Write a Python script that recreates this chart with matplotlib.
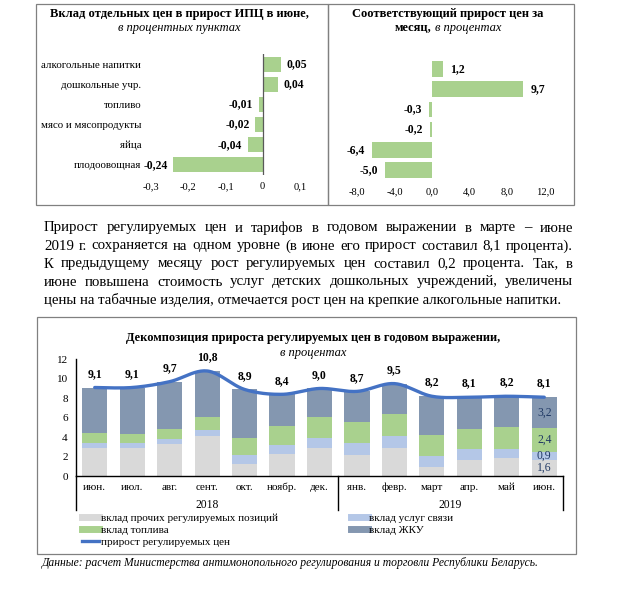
import numpy as np
import matplotlib
matplotlib.use("Agg")
import matplotlib.pyplot as plt
from matplotlib.lines import Line2D
from matplotlib.patches import Rectangle

W, H = 621, 599
SERIF = "Liberation Serif"

# top left: contributions to CPI, p.p.
contrib_labels = ["алкогольные напитки", "дошкольные учр.", "топливо",
                  "мясо и мясопродукты", "яйца", "плодоовощная"]
contrib_values = [0.05, 0.04, -0.01, -0.02, -0.04, -0.24]
contrib_ticks = [-0.3, -0.2, -0.1, 0, 0.1]
contrib_tick_labels = ["-0,3", "-0,2", "-0,1", "0", "0,1"]

# top right: monthly price growth, %
growth_values = [1.2, 9.7, -0.3, -0.2, -6.4, -5.0]
growth_ticks = [-8, -4, 0, 4, 8, 12]
growth_tick_labels = ["-8,0", "-4,0", "0,0", "4,0", "8,0", "12,0"]

# bottom: decomposition of regulated prices growth
months = ["июн.", "июл.", "авг.", "сент.", "окт.", "ноябр.", "дек.",
          "янв.", "февр.", "март", "апр.", "май", "июн."]
years = ["2018", "2019"]
other = [2.9, 2.9, 3.25, 4.1, 1.2, 2.3, 2.9, 2.15, 2.9, 0.9, 1.6, 1.9, 1.6]
telecom = [0.5, 0.45, 0.6, 0.6, 1.0, 0.9, 1.0, 1.2, 1.25, 1.15, 1.2, 0.85, 0.9]
fuel = [1.05, 1.0, 1.0, 1.35, 1.7, 1.9, 2.15, 2.25, 2.2, 2.15, 2.05, 2.25, 2.4]
housing = [4.65, 4.75, 4.85, 4.75, 5.0, 3.3, 2.95, 3.1, 3.15, 4.0, 3.25, 3.2, 3.2]
regulated = [9.1, 9.1, 9.7, 10.8, 8.9, 8.4, 9.0, 8.7, 9.5, 8.2, 8.1, 8.2, 8.1]

paragraph = [
    "Прирост регулируемых цен и тарифов в годовом выражении в марте – июне",
    "2019 г. сохраняется на одном уровне (в июне его прирост составил 8,1 процента).",
    "К предыдущему месяцу рост регулируемых цен составил 0,2 процента. Так, в",
    "июне повышена стоимость услуг детских дошкольных учреждений, увеличены",
    "цены на табачные изделия, отмечается рост цен на крепкие алкогольные напитки.",
]
footnote = "Данные: расчет Министерства антимонопольного регулирования и торговли Республики Беларусь."

GREEN = "#A9D18E"
GREY = "#D9D9D9"
LBLUE = "#B4C7E7"
SLATE = "#8497B0"
LINE = "#4472C4"

plt.rcParams["font.family"] = SERIF


def px_axes(fig, left, top, width, height):
    return fig.add_axes([left / W, 1 - (top + height) / H, width / W, height / H])


def fmt(v, nd):
    return f"{v:.{nd}f}".replace(".", ",")


def smooth(xs, ys, n=24):
    # excel-like smoothed line (catmull-rom)
    pts = np.column_stack([xs, ys]).astype(float)
    p = np.vstack([pts[0], pts, pts[-1]])
    out = []
    t = np.linspace(0, 1, n, endpoint=False)[:, None]
    for i in range(len(pts) - 1):
        p0, p1, p2, p3 = p[i], p[i + 1], p[i + 2], p[i + 3]
        seg = 0.5 * (2 * p1 + (-p0 + p2) * t + (2 * p0 - 5 * p1 + 4 * p2 - p3) * t ** 2
                     + (-p0 + 3 * p1 - 3 * p2 + p3) * t ** 3)
        out.append(seg)
    out.append(pts[-1:])
    out = np.vstack(out)
    return out[:, 0], out[:, 1]


fig = plt.figure(figsize=(W / 100, H / 100), dpi=100)
ov = fig.add_axes([0, 0, 1, 1])
ov.set_xlim(0, W)
ov.set_ylim(H, 0)
ov.axis("off")
renderer = fig.canvas.get_renderer()

# frames
for (x0, y0, x1, y1) in [(35.5, 4, 328, 205), (328, 4, 574, 205), (37, 317, 576, 554)]:
    ov.add_patch(Rectangle((x0, y0), x1 - x0, y1 - y0, fill=False, ec="#808080", lw=0.9))

# ---- top left chart
ov.text(179, 14, "Вклад отдельных цен в прирост ИПЦ в июне,", ha="center", va="center",
        fontsize=9.0, fontweight="bold")
ov.text(179, 28, "в процентных пунктах", ha="center", va="center", fontsize=9.0, style="italic")

ax1 = px_axes(fig, 151, 54, 149, 121)
ypos = np.arange(len(contrib_labels))
ax1.barh(ypos, contrib_values, height=0.75, color=GREEN)
ax1.set_xlim(-0.3, 0.1)
ax1.set_ylim(len(contrib_labels) - 0.5, -0.5)
ax1.axvline(0, color="#595959", lw=0.9)
ax1.set_yticks(ypos, contrib_labels, fontsize=7.8)
ax1.set_xticks(contrib_ticks, contrib_tick_labels, fontsize=7.6)
ax1.tick_params(length=0, pad=5)
ax1.tick_params(axis="y", pad=7)
for s in ax1.spines.values():
    s.set_visible(False)
ax1.patch.set_alpha(0)
for y, v in zip(ypos, contrib_values):
    ax1.annotate(fmt(v, 2), (v, y), xytext=(4 if v > 0 else -4, 0), textcoords="offset points",
                 ha="left" if v > 0 else "right", va="center", fontsize=8.4, fontweight="bold")

# ---- top right chart
ov.text(448, 14, "Соответствующий прирост цен за", ha="center", va="center",
        fontsize=9.0, fontweight="bold")
t1 = ov.text(0, 28, "месяц,", ha="left", va="center", fontsize=9.0, fontweight="bold")
t2 = ov.text(0, 28, "в процентах", ha="left", va="center", fontsize=9.0, style="italic")
w1 = t1.get_window_extent(renderer).width
w2 = t2.get_window_extent(renderer).width
start = 448 - (w1 + 4 + w2) / 2
t1.set_x(start)
t2.set_x(start + w1 + 4)

ax2 = px_axes(fig, 357, 59, 188, 121)
ax2.barh(ypos, growth_values, height=0.78, color=GREEN)
ax2.set_xlim(-8, 12)
ax2.set_ylim(len(growth_values) - 0.5, -0.5)
ax2.set_yticks([])
ax2.set_xticks(growth_ticks, growth_tick_labels, fontsize=7.6)
ax2.tick_params(length=0, pad=5)
for s in ax2.spines.values():
    s.set_visible(False)
ax2.patch.set_alpha(0)
for y, v in zip(ypos, growth_values):
    ax2.annotate(fmt(v, 1), (v, y), xytext=(5 if v > 0 else -5, 0), textcoords="offset points",
                 ha="left" if v > 0 else "right", va="center", fontsize=8.4, fontweight="bold")

# ---- paragraph, justified
x_left, x_right = 44, 573
PFS = 10.7
for i, line in enumerate(paragraph):
    y = 228 + i * 18
    if i == len(paragraph) - 1:
        ov.text(x_left, y, line, ha="left", va="center", fontsize=PFS)
        continue
    words = line.split()
    arts = [ov.text(0, y, w, ha="left", va="center", fontsize=PFS) for w in words]
    widths = [a.get_window_extent(renderer).width for a in arts]
    gap = (x_right - x_left - sum(widths)) / (len(words) - 1)
    x = x_left
    for a, w in zip(arts, widths):
        a.set_x(x)
        x += w + gap

# ---- bottom chart
ov.text(313, 338, "Декомпозиция прироста регулируемых цен в годовом выражении,",
        ha="center", va="center", fontsize=9.0, fontweight="bold")
ov.text(313, 353, "в процентах", ha="center", va="center", fontsize=9.0, style="italic")

ax3 = px_axes(fig, 76, 359.3, 487, 116.7)
x = np.arange(len(months))
bw = 0.67
ax3.bar(x, other, bw, color=GREY)
b = np.array(other)
ax3.bar(x, telecom, bw, bottom=b, color=LBLUE)
b = b + np.array(telecom)
ax3.bar(x, fuel, bw, bottom=b, color=GREEN)
b = b + np.array(fuel)
ax3.bar(x, housing, bw, bottom=b, color=SLATE)
sx, sy = smooth(x, regulated)
ax3.plot(sx, sy, color=LINE, lw=2.4, solid_capstyle="round")
for xi, v in zip(x, regulated):
    ax3.annotate(fmt(v, 1), (xi, v), xytext=(0, 5.5), textcoords="offset points",
                 ha="center", va="bottom", fontsize=8.4, fontweight="bold")

# labels inside the last bar
last = len(months) - 1
seg_vals = [other[last], telecom[last], fuel[last], housing[last]]
bottoms = np.cumsum([0] + seg_vals[:-1])
for bt, v in zip(bottoms, seg_vals):
    ax3.text(last, bt + v / 2, fmt(v, 1), ha="center", va="center", fontsize=8.4, color="#1F3864")

ax3.set_xlim(-0.5, len(months) - 0.5)
ax3.set_ylim(0, 12)
ax3.set_yticks(range(0, 13, 2))
ax3.tick_params(axis="y", labelsize=8.0, length=0, pad=6)
ax3.set_xticks(x, months)
ax3.tick_params(axis="x", labelsize=8.0, length=0, pad=5)
ax3.spines["top"].set_visible(False)
ax3.spines["right"].set_visible(False)
ax3.spines["left"].set_linewidth(1.0)
ax3.spines["bottom"].set_linewidth(1.0)
ax3.patch.set_alpha(0)
trans = ax3.get_xaxis_transform()
for xs in [-0.5, 6.5, len(months) - 0.5]:
    ax3.plot([xs, xs], [0, -34 / 116.7], color="black", lw=1.0, transform=trans, clip_on=False)
ax3.text(3, -29 / 116.7, years[0], transform=trans, ha="center", va="center", fontsize=8.4)
ax3.text(9.5, -29 / 116.7, years[1], transform=trans, ha="center", va="center", fontsize=8.4)

handles = [
    Line2D([], [], color=GREY, lw=5),
    Line2D([], [], color=GREEN, lw=5),
    Line2D([], [], color=LINE, lw=2.4),
    Line2D([], [], color=LBLUE, lw=5),
    Line2D([], [], color=SLATE, lw=5),
]
labels = ["вклад прочих регулируемых позиций", "вклад топлива", "прирост регулируемых цен",
          "вклад услуг связи", "вклад ЖКУ"]
fig.legend(handles, labels, loc="upper left", bbox_to_anchor=(78 / W, 1 - 509 / H), ncol=2,
           frameon=False, fontsize=8, handlelength=1.5, handletextpad=0.15,
           labelspacing=0.2, columnspacing=6.6, borderaxespad=0)

ov.text(42, 563, footnote, ha="left", va="center", fontsize=8.4, style="italic")

fig.savefig("out.png", dpi=100)
